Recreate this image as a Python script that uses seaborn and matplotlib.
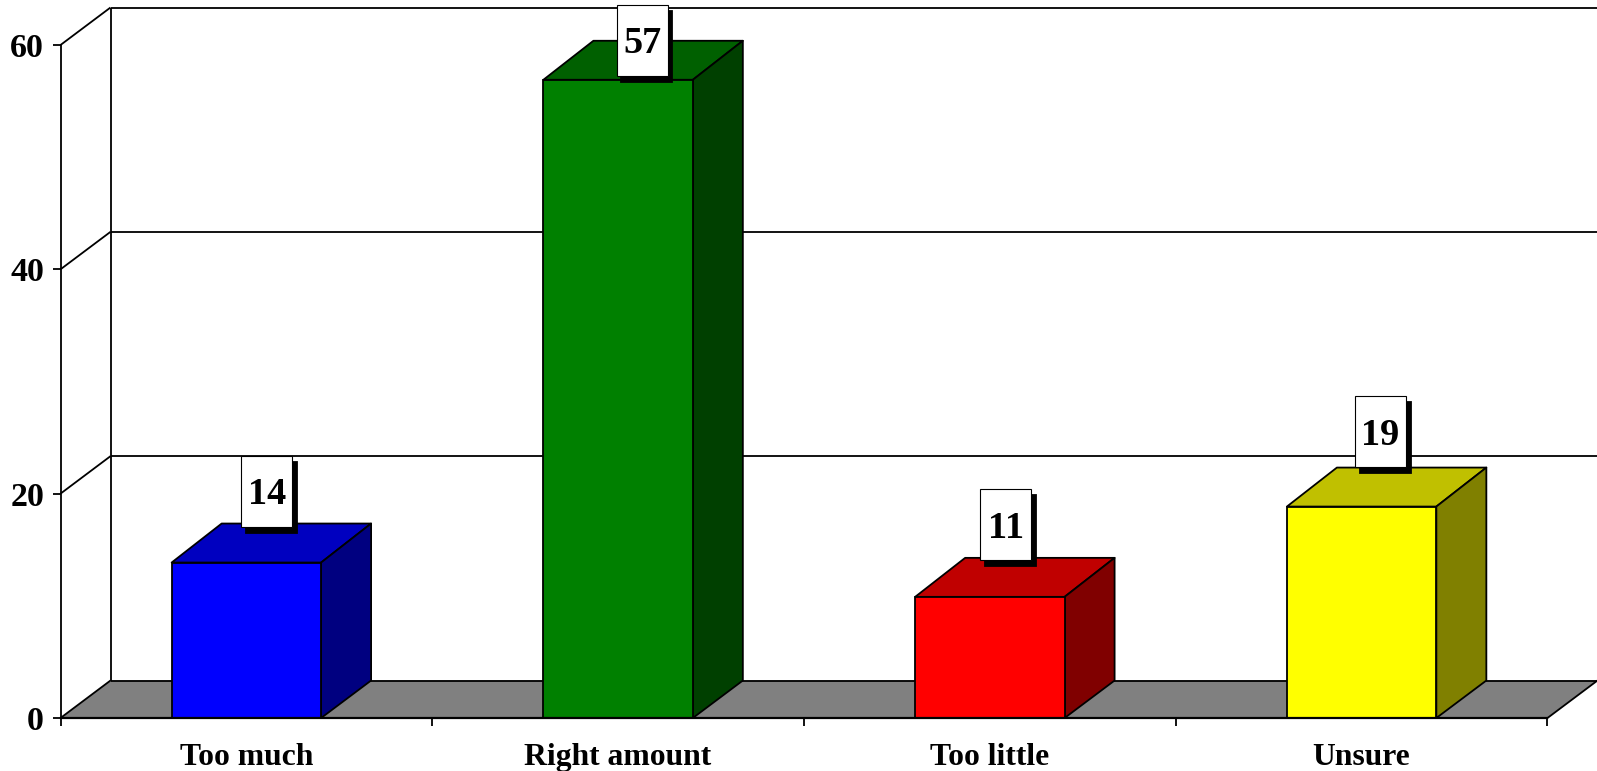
import matplotlib
matplotlib.use("Agg")
import matplotlib.pyplot as plt
import numpy as np
import seaborn as sns
from matplotlib.patches import Polygon, Rectangle

categories = ["Too much", "Right amount", "Too little", "Unsure"]
values = [13.86, 56.9, 10.8, 18.85]
y_ticks = [0, 20, 40, 60]

front_colors = ["#0000FF", "#008000", "#FF0000", "#FFFF00"]
top_colors = ["#0000C0", "#006000", "#C00000", "#C0C000"]
side_colors = ["#000080", "#004000", "#800000", "#808000"]

# label box offsets from the bar's front top centre, in pixels
label_dx_px = [20.5, 24, 16, 19]
label_gap_px = [36, 4, 36.5, 39.5]

W, H = 1597, 771
sns.set_style("white")
plt.rcParams["font.family"] = ["Liberation Serif", "DejaVu Serif"]
plt.rcParams["font.weight"] = "bold"
plt.rcParams["text.color"] = "black"
plt.rcParams["xtick.labelcolor"] = "black"
plt.rcParams["ytick.labelcolor"] = "black"

fig = plt.figure(figsize=(W / 100, H / 100), dpi=100, facecolor="white")
L, R, T, B = 60.5, 1547.5, 45.0, 718.0
ax = fig.add_axes([L / W, 1 - B / H, (R - L) / W, (B - T) / H])
ax.patch.set_alpha(0)

LW = 1.3
sns.barplot(x=categories, y=values, hue=categories, palette=front_colors,
            saturation=1, width=0.402, edgecolor="black", linewidth=LW,
            legend=False, zorder=4, ax=ax)
ax.set_xlim(-0.5, 3.5)
ax.set_ylim(0, 60)

px_x = 4 / (R - L)
px_y = 60 / (B - T)
dx, dy = 50 * px_x, 37.5 * px_y
x0, x1 = -0.5, 3.5
bar_dy = 39 * px_y

# floor
ax.add_patch(Polygon([(x0, 0), (x1, 0), (x1 + dx, dy), (x0 + dx, dy)], closed=True,
                     facecolor="#808080", edgecolor="none", zorder=1, clip_on=False))
line_kw = dict(color="black", lw=LW, clip_on=False, zorder=2, solid_capstyle="butt")
ax.plot([x1, x1 + dx], [0, dy], **line_kw)
# back wall, grid, and left-wall diagonals
ax.plot([x0 + dx, x0 + dx], [dy, 60 + dy], **line_kw)
for v in y_ticks:
    ax.plot([x0, x0 + dx], [v, v + dy], **line_kw)
    ax.plot([x0 + dx, x1 + dx], [v + dy, v + dy], **line_kw)

# 3D faces on the bars drawn by seaborn
bars = [b for b in ax.patches if isinstance(b, Rectangle) and b.get_height() > 0]
bars.sort(key=lambda b: b.get_x())
for b, tc, sc in zip(bars, top_colors, side_colors):
    xl, xr, h = b.get_x(), b.get_x() + b.get_width(), b.get_height()
    ax.add_patch(Polygon([(xl, h), (xr, h), (xr + dx, h + bar_dy), (xl + dx, h + bar_dy)], closed=True,
                         facecolor=tc, edgecolor="black", lw=LW, zorder=3, clip_on=False,
                         joinstyle="round"))
    ax.add_patch(Polygon([(xr, 0), (xr + dx, dy), (xr + dx, h + bar_dy), (xr, h)], closed=True,
                         facecolor=sc, edgecolor="black", lw=LW, zorder=3, clip_on=False,
                         joinstyle="round"))

# value labels
box_w, box_h = 51 * px_x, 71 * px_y
for b, v, ox, gap in zip(bars, values, label_dx_px, label_gap_px):
    cx = b.get_x() + b.get_width() / 2 + ox * px_x
    y_low = v + gap * px_y
    ax.add_patch(Rectangle((cx - box_w / 2 + 4.5 * px_x, y_low - 6 * px_y), box_w, box_h,
                           facecolor="black", edgecolor="black", lw=LW, zorder=5, clip_on=False))
    ax.add_patch(Rectangle((cx - box_w / 2, y_low), box_w, box_h,
                           facecolor="white", edgecolor="black", lw=0.8, zorder=6, clip_on=False))
    ax.text(cx, y_low + box_h / 2 + 0.5 * px_y, str(int(round(v))), ha="center", va="center_baseline",
            fontsize=27.5, fontweight="bold", color="black", zorder=7, clip_on=False)

# axes
for s in ("top", "right"):
    ax.spines[s].set_visible(False)
for s in ("left", "bottom"):
    ax.spines[s].set_linewidth(LW)
    ax.spines[s].set_color("black")
    ax.spines[s].set_zorder(8)
ax.spines["bottom"].set_linewidth(1.6)

ax.set_yticks(y_ticks)
ax.set_yticklabels([str(v) for v in y_ticks], fontsize=24.5, fontweight="bold", color="black")
ax.tick_params(axis="y", which="major", left=True, length=5.8, width=LW, pad=6, color="black")
ax.set_xticks(np.arange(5) - 0.5)
ax.set_xticklabels([""] * 5)
ax.set_xticks(np.arange(4), minor=True)
ax.set_xticklabels(categories, minor=True, fontsize=22.8, fontweight="bold", color="black")
ax.tick_params(axis="x", which="major", bottom=True, length=5.8, width=LW, color="black")
ax.tick_params(axis="x", which="minor", bottom=False, length=0, pad=17.8)
ax.set_xlabel("")
ax.set_ylabel("")

fig.savefig("out.png", dpi=100, facecolor="white")
